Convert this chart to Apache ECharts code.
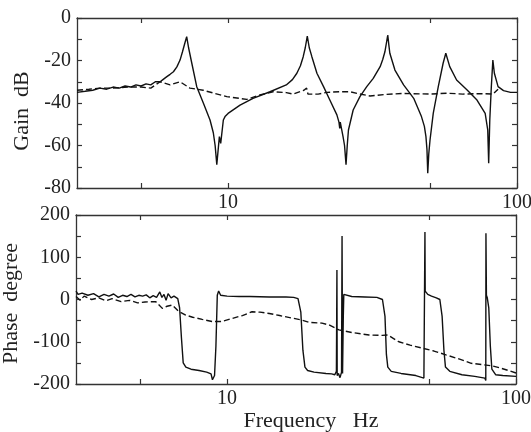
<!DOCTYPE html>
<html>
<head>
<meta charset="utf-8">
<script src="https://cdn.jsdelivr.net/npm/echarts@6.0.0/dist/echarts.min.js"></script>
<style>
  html, body { margin: 0; padding: 0; background: #fff; }
  #bode { width: 531px; height: 432px; }
</style>
</head>
<body>
<div id="bode"></div>
<script>
// gain, solid curve (Hz / dB)
const gainFreq = [3.0, 3.2, 3.4, 3.6, 3.8, 4.0, 4.2, 4.4, 4.6, 4.8, 5.0, 5.2, 5.4, 5.6, 5.82, 5.95, 6.14, 6.3, 6.47, 6.65,
  6.82, 6.95, 7.08, 7.19, 7.3, 7.49, 7.79, 8.21, 8.66, 8.89, 9.02, 9.14, 9.33, 9.43, 9.63, 9.76, 10.0, 11.0, 12.2, 13.97,
  15.9, 16.7, 17.3, 17.8, 18.2, 18.5, 18.8, 19.1, 19.5, 20.3, 21.4, 22.5, 23.8, 24.2, 24.35, 24.45, 25.0, 25.3, 25.6, 25.85,
  26.1, 27.1, 28.6, 30.2, 31.8, 33.6, 34.3, 34.9, 35.3, 35.7, 36.0, 36.3, 37.8, 40.5, 43.9, 46.7, 47.8, 48.4, 48.8, 49.1,
  49.5, 50.0, 51.3, 53.4, 55.5, 56.7, 58.5, 61.8, 67.2, 72.7, 77.6, 79.2, 79.8, 80.5, 81.5, 82.5, 83.5, 86, 89.8, 95,
  100];
const gainSolid = [-35, -34.5, -34, -33, -33.5, -32.5, -33, -32, -32.5, -31.5, -32, -31, -31.5, -30, -30, -29, -27.6, -26.5, -25.3, -23,
  -19.8, -16, -12, -8.8, -14, -21.3, -32.3, -40, -48, -54, -60, -69, -55.8, -59, -48, -46.4, -44.9, -41, -37.8, -34.7,
  -31.5, -29, -26, -22.5, -18.2, -14, -8.5, -14, -18.2, -26, -32.3, -38.6, -45.6, -49, -52, -49, -55.8, -60, -69, -60,
  -52.7, -43.3, -37, -32.3, -28.4, -22.9, -19.5, -15.9, -12, -8, -12.5, -16.6, -24.5, -31.5, -37.8, -46.4, -51, -55.8, -62, -73,
  -64, -57.4, -44.9, -32.3, -21.3, -16.6, -22.9, -29.2, -33.9, -38.6, -44.9, -52.7, -68.4, -48, -32.3, -19.8, -26, -32.3, -34.2, -35,
  -35];

// gain, dashed curve
const gainDashFreq = [3.0, 3.3, 3.6, 4.0, 4.5, 5.0, 5.4, 5.82, 6.3, 6.82, 7.38, 8.2, 9.0, 9.9, 11.6, 12.9, 14.3, 15.9, 16.8, 18.3,
  18.7, 18.9, 20.5, 22, 24.4, 26.4, 28, 31, 35, 40, 50, 57.4, 65, 75, 82.6, 86];
const gainDashed = [-34, -33.5, -33, -33, -32.5, -32.5, -33, -30, -31.5, -30, -33, -34, -35.5, -37, -38.3, -36.2, -34.7, -35.1, -35.8, -34,
  -33, -35.8, -35.8, -35, -34.7, -34.7, -35.5, -36.7, -36, -35.5, -35.8, -35.4, -35.8, -35.6, -35.8, -33.5];

// phase, solid curve (Hz / degree)
const phaseFreq = [3.0, 3.05, 3.15, 3.3, 3.45, 3.6, 3.75, 3.9, 4.05, 4.2, 4.35, 4.5, 4.65, 4.8, 4.95, 5.1, 5.25, 5.4, 5.55, 5.7,
  5.85, 5.95, 6.05, 6.15, 6.25, 6.4, 6.55, 6.75, 6.85, 6.95, 7.05, 7.2, 7.5, 8.0, 8.5, 8.8, 8.9, 9.05, 9.15, 9.25,
  9.35, 9.5, 10, 11, 12, 14, 16, 17, 17.6, 18, 18.3, 18.6, 19, 20, 22, 23, 23.6, 23.9, 24.0, 24.05,
  24.3, 24.6, 24.9, 25.0, 25.1, 25.25, 25.35, 25.6, 27, 30, 33, 34.5, 35.2, 35.6, 36, 37, 40, 45, 48, 48.3,
  48.4, 48.5, 49.5, 51, 53, 54.5, 55.5, 56.3, 57, 59, 65, 72, 78, 78.6, 78.7, 79.0, 79.5, 80.5, 81.5, 82.5,
  85, 90, 100];
const phaseSolid = [20, 12, 15, 10, 14, 6, 12, 8, 13, 5, 10, 7, 12, 6, 10, 8, 11, 4, 9, 5,
  18, 5, 12, -2, 14, 4, 8, 2, -20, -90, -150, -160, -165, -168, -172, -176, -190, -180, -110, 10,
  20, 10, 8, 7, 7, 6, 6, 5, 2, -30, -120, -160, -168, -172, -175, -176, -178, -170, 70, -180,
  -175, -185, -172, 150, -175, -40, 12, 8, 7, 6, 5, 0, -40, -130, -160, -170, -175, -180, -186, -190,
  160, 20, 12, 8, 4, 0, -40, -120, -160, -170, -178, -182, -186, -192, 157, 10, 5, -20, -110, -165,
  -178, -180, -182];

// phase, dashed curve
const phaseDashFreq = [3.0, 3.1, 3.2, 3.4, 3.6, 3.8, 4.0, 4.3, 4.6, 4.9, 5.2, 5.66, 5.97, 6.2, 6.46, 6.8, 7.19, 7.6, 8.2, 8.87,
  9.6, 10.4, 11.3, 12.2, 13, 14, 15.2, 16.8, 18, 19.2, 21.3, 22.5, 24.4, 27, 31, 34.4, 36, 39.3, 43, 47.3,
  52, 57.2, 63, 70, 76, 82.6, 88, 94, 100];
const phaseDashed = [7, -2, 8, 0, 4, -3, 2, -5, -2, -8, -6, -5, -21, -16, -13, -28, -37, -42, -47, -52,
  -52, -45, -38, -29, -30, -33, -38, -44, -48, -54, -56, -60, -72, -78, -84, -85, -84, -100, -108, -115,
  -122, -131, -140, -151, -154, -157, -162, -168, -174];

const zip = (xs, ys) => xs.map((x, i) => [x, ys[i]]);

const font = { fontFamily: 'Liberation Serif', fontSize: 20, color: '#222' };
const titleFont = { fontFamily: 'Liberation Serif', fontSize: 22, color: '#222' };
const axisLine = { show: true, onZero: false, lineStyle: { color: '#333', width: 1.3 } };
const tick = { inside: true, length: 5, lineStyle: { color: '#333', width: 1.2 } };

const freqAxis = (grid, pos, labels, extra) => Object.assign({
  type: 'log',
  logBase: 10,
  gridIndex: grid,
  position: pos,
  min: 3,
  max: 100,
  axisLine,
  axisTick: Object.assign({ customValues: [5, 10, 50, 100] }, tick),
  axisLabel: Object.assign({ show: labels, customValues: [10, 100], margin: 5 }, font),
  splitLine: { show: false },
  minorTick: { show: false }
}, extra || {});

const valAxis = (grid, pos, min, max, step, labelStep, extra) => Object.assign({
  type: 'value',
  gridIndex: grid,
  position: pos,
  min,
  max,
  interval: step,
  axisLine,
  axisTick: tick,
  axisLabel: Object.assign({
    show: pos === 'left',
    margin: 6,
    formatter: v => (v % labelStep === 0 ? String(v) : '')
  }, font),
  splitLine: { show: false }
}, extra || {});

const solid = { color: '#111', width: 1.4 };
const dashed = { color: '#111', width: 1.4, type: [6, 3] };

const option = {
  backgroundColor: '#fff',
  animation: false,
  grid: [
    { left: 77, right: 14, top: 18, height: 170, outerBoundsMode: 'none' },
    { left: 76, right: 15, top: 215, height: 169, outerBoundsMode: 'none' }
  ],
  xAxis: [
    freqAxis(0, 'bottom', true),
    freqAxis(0, 'top', false),
    freqAxis(1, 'bottom', true, {
      name: 'Frequency   Hz',
      nameLocation: 'middle',
      nameGap: 26,
      nameTextStyle: Object.assign({ padding: [0, 0, 0, 30] }, titleFont)
    }),
    freqAxis(1, 'top', false)
  ],
  yAxis: [
    valAxis(0, 'left', -80, 0, 10, 20, {
      name: 'Gain  dB',
      nameLocation: 'middle',
      nameGap: 44,
      nameTextStyle: Object.assign({ padding: [0, 16, 0, 0] }, titleFont)
    }),
    valAxis(0, 'right', -80, 0, 10, 20),
    valAxis(1, 'left', -200, 200, 50, 100, {
      name: 'Phase  degree',
      nameLocation: 'middle',
      nameGap: 48,
      nameTextStyle: Object.assign({ padding: [0, 8, 0, 0] }, titleFont)
    }),
    valAxis(1, 'right', -200, 200, 50, 100)
  ],
  series: [
    { type: 'line', xAxisIndex: 0, yAxisIndex: 0, symbol: 'none', lineStyle: dashed, data: zip(gainDashFreq, gainDashed) },
    { type: 'line', xAxisIndex: 0, yAxisIndex: 0, symbol: 'none', lineStyle: solid, data: zip(gainFreq, gainSolid) },
    { type: 'line', xAxisIndex: 2, yAxisIndex: 2, symbol: 'none', lineStyle: dashed, data: zip(phaseDashFreq, phaseDashed) },
    { type: 'line', xAxisIndex: 2, yAxisIndex: 2, symbol: 'none', lineStyle: solid, data: zip(phaseFreq, phaseSolid) }
  ]
};

const chart = echarts.init(document.getElementById('bode'), null, { renderer: 'canvas' });
chart.setOption(option);
</script>
</body>
</html>
